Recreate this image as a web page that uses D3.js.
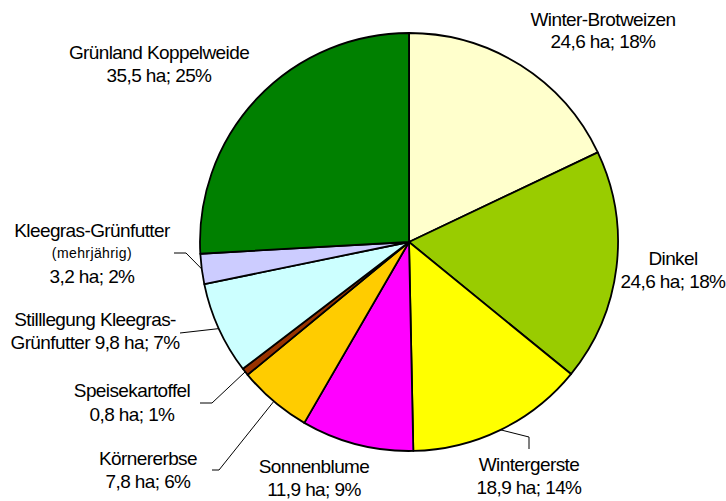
<!DOCTYPE html>
<html><head><meta charset="utf-8">
<script src="https://cdn.jsdelivr.net/npm/d3@7/dist/d3.min.js"></script>
<style>body{margin:0;background:#fff}svg{display:block}text{font-family:"Liberation Sans",Arial,sans-serif;fill:#000}</style>
</head><body>
<script>
const categories = ["Winter-Brotweizen","Dinkel","Wintergerste","Sonnenblume","Körnererbse","Speisekartoffel","Stilllegung Kleegras-Grünfutter","Kleegras-Grünfutter (mehrjährig)","Grünland Koppelweide"];
const values = [24.6, 24.6, 18.9, 11.9, 7.8, 0.8, 9.8, 3.2, 35.5];
const percents = ["18%","18%","14%","9%","6%","1%","7%","2%","25%"];
const colors = ["#FFFFCC","#99CC00","#FFFF00","#FF00FF","#FFCC00","#993300","#CCFFFF","#CCCCFF","#008000"];
const labelLines = [
  [["Winter-Brotweizen",19],["24,6 ha; 18%",19]],
  [["Dinkel",19],["24,6 ha; 18%",19]],
  [["Wintergerste",19],["18,9 ha; 14%",19]],
  [["Sonnenblume",19],["11,9 ha; 9%",19]],
  [["Körnererbse",19],["7,8 ha; 6%",19]],
  [["Speisekartoffel",19],["0,8 ha; 1%",19]],
  [["Stilllegung Kleegras-",19],["Grünfutter 9,8 ha; 7%",19]],
  [["Kleegras-Grünfutter",19],["(mehrjährig)",14],["3,2 ha; 2%",19]],
  [["Grünland Koppelweide",19],["35,5 ha; 25%",19]]
];
const labelPos = [
  {x:603,y:[26,48]},
  {x:673,y:[265,288]},
  {x:529,y:[471,494]},
  {x:314,y:[473,496]},
  {x:148,y:[465,488]},
  {x:132,y:[397,421]},
  {x:95,y:[326,349]},
  {x:92,y:[237,258,283]},
  {x:159,y:[59,82]}
];
const W=726,H=501,cx=409,cy=242,R=209;
const svg=d3.select("body").append("svg").attr("width",W).attr("height",H);
const pie=d3.pie().sort(null).value(d=>d)(values);
const arc=d3.arc().innerRadius(0).outerRadius(R);
const g=svg.append("g").attr("transform",`translate(${cx},${cy})`);
g.selectAll("path").data(pie).join("path").attr("d",arc)
  .attr("fill",(d,i)=>colors[i]).attr("stroke","#000").attr("stroke-width",1.8).attr("stroke-linejoin","round");
function edge(i){const a=(pie[i].startAngle+pie[i].endAngle)/2;return [cx+R*Math.sin(a),cy-R*Math.cos(a)];}
const leaders=[
  {i:2,pts:[[529,449],[529,437]]},
  {i:4,pts:[[212,470],[219,470]]},
  {i:5,pts:[[200,403],[212,403]]},
  {i:6,pts:[[180,333]]},
  {i:7,pts:[[174,253],[186,253]]}
];
leaders.forEach(l=>{
  const p=l.pts.concat([edge(l.i)]);
  svg.append("path").attr("d",d3.line()(p)).attr("fill","none").attr("stroke","#000").attr("stroke-width",1);
});
labelLines.forEach((lines,i)=>{
  const t=svg.append("text").attr("text-anchor","middle");
  lines.forEach((ln,j)=>{
    t.append("tspan").attr("x",labelPos[i].x).attr("y",labelPos[i].y[j])
     .attr("font-size",ln[1]).attr("letter-spacing",ln[1]>15?"-0.6px":"0.4px").text(ln[0]);
  });
});
</script>
</body></html>
